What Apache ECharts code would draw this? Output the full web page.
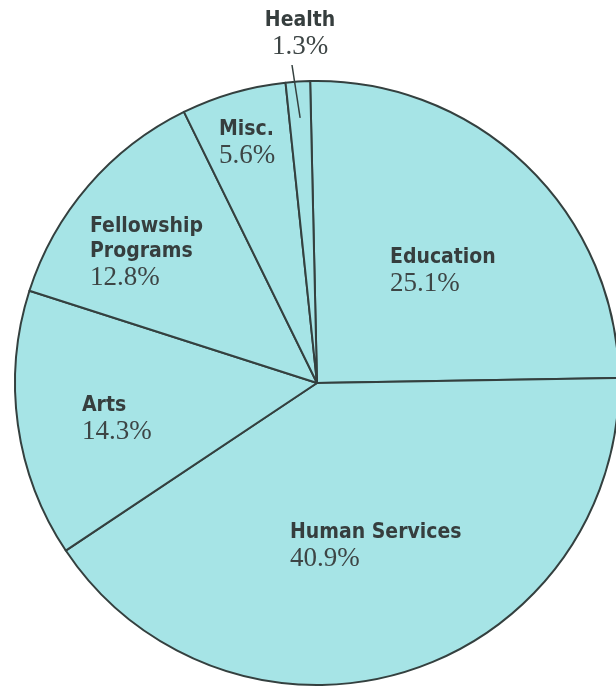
<!DOCTYPE html>
<html>
<head>
<meta charset="utf-8">
<script src="https://cdn.jsdelivr.net/npm/echarts@6/dist/echarts.min.js"></script>
<style>
  html, body { margin: 0; padding: 0; background: #fff; }
  #chartPie { width: 616px; height: 690px; }
</style>
</head>
<body>
<div id="chartPie"></div>
<script>
// data, clockwise from 12 o'clock
const categories = ["Education", "Human Services", "Arts", "Fellowship\nPrograms", "Misc.", "Health"];
const shares = [25.1, 40.9, 14.3, 12.8, 5.6, 1.3];

// where each label block sits (top-left corner, Health is centred)
const labelSpots = [
    [390, 245], [290, 520], [82, 393], [90, 214], [219, 117], [300, 8]
];

const pieCenter = [317, 383];
const pieRadius = 302;
const startAngle = 91.3;

const chartDom = document.getElementById("chartPie");
const myChart = echarts.init(chartDom, null, { renderer: "canvas" });

function richName(name) {
    return name.split("\n").map(function (s) { return "{n|" + s + "}"; }).join("\n");
}

// middle angle of a slice (radians, screen coords)
function midAngle(idx) {
    const total = shares.reduce(function (a, b) { return a + b; }, 0);
    let before = 0;
    for (let i = 0; i < idx; i++) before += shares[i];
    const deg = startAngle - (before + shares[idx] / 2) / total * 360;
    return deg * Math.PI / 180;
}

// leader line for the thin Health slice: from inside the slice up to its label
const healthIdx = categories.indexOf("Health");
const hA = midAngle(healthIdx);
const hR = pieRadius * 0.88;
const leaderPts = [
    [pieCenter[0] + hR * Math.cos(hA), pieCenter[1] - hR * Math.sin(hA)],
    [labelSpots[healthIdx][0] - 8, labelSpots[healthIdx][1] + 57],
];

const pieData = categories.map(function (name, i) {
    return { name: name, value: shares[i] };
});

const option = {
    backgroundColor: "#ffffff",
    animation: false,
    series: [
        {
            type: "pie",
            center: pieCenter,
            radius: pieRadius,
            startAngle: startAngle,
            clockwise: true,
            avoidLabelOverlap: false,
            data: pieData,
            itemStyle: {
                color: "#a6e4e6",
                borderColor: "#34403f",
                borderWidth: 2,
            },
            label: {
                show: true,
                position: "inside",
                formatter: function (p) {
                    return richName(p.name) + "\n{p|" + p.value.toFixed(1) + "%}";
                },
                rich: {
                    n: {
                        fontFamily: "Liberation Sans Narrow, DejaVu Sans Condensed, sans-serif",
                        fontWeight: "bold",
                        fontSize: 21,
                        lineHeight: 25,
                        color: "#363e3e",
                    },
                    p: {
                        fontFamily: "Liberation Serif, DejaVu Serif, serif",
                        fontSize: 27,
                        lineHeight: 28,
                        color: "#3d4545",
                    },
                },
            },
            labelLine: { show: false },
            labelLayout: function (params) {
                const i = params.dataIndex;
                const spot = labelSpots[i];
                return {
                    x: spot[0],
                    y: spot[1],
                    align: i === healthIdx ? "center" : "left",
                    verticalAlign: "top",
                };
            },
            emphasis: { disabled: true },
        },
    ],
    graphic: [
        {
            type: "polyline",
            z: 100,
            silent: true,
            shape: { points: leaderPts },
            style: { stroke: "#34403f", lineWidth: 1.5, fill: null },
        },
    ],
};
myChart.setOption(option);
</script>
</body>
</html>
